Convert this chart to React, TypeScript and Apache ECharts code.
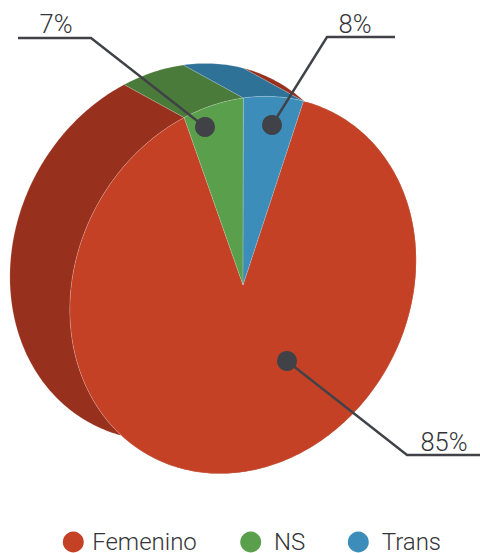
import React, { useEffect, useRef } from "react";
import * as echarts from "echarts";

const categories = ["Femenino", "NS", "Trans"];
// Angular share of each slice as drawn in the picture (percent of the turn)
const sliceShares = [88.8, 5.56, 5.64];
// Printed labels of the slices
const printedLabels = ["85%", "7%", "8%"];

const faceColors = ["#C44125", "#5A9F4C", "#3D8DBB"];
const wallColors = ["#97301D", "#4A7B3A", "#2E7298"];
const leaderColor = "#414247";
const textColor = "#333438";
const fontFamily = "Roboto";

// Tilted disc projection
const CX = 243;
const CY = 285;
const MAJOR = 194.8;
const MINOR = 166.4;
const MX = 0.476;
const MY = -0.879;
const NX = 0.879;
const NY = 0.476;
const DEPTH_X = -60;
const DEPTH_Y = -33;
const START_DEG = 16.5;

// Legend entry layout: left edge and symbol box width
const legendLefts = [62.8, 240.2, 347.8];
const legendSymbolWidths = [27.8, 36.5, 36.9];

function project(deg: number): [number, number] {
  const r = (deg * Math.PI) / 180;
  const ux = Math.sin(r);
  const uy = -Math.cos(r);
  const pm = (ux * MX + uy * MY) * MAJOR;
  const pn = (ux * NX + uy * NY) * MINOR;
  return [CX + pm * MX + pn * NX, CY + pm * MY + pn * NY];
}

function arc(from: number, sweep: number): [number, number][] {
  const n = Math.max(2, Math.ceil(sweep));
  const out: [number, number][] = [];
  for (let i = 0; i <= n; i++) out.push(project(from + (sweep * i) / n));
  return out;
}

const seam = { stroke: "rgba(255,255,255,0.28)", lineWidth: 0.6 };

function makeSeries(index: number) {
  const before = sliceShares.slice(0, index).reduce((a, b) => a + b, 0);
  return {
    type: "custom",
    name: categories[index],
    coordinateSystem: "none",
    silent: true,
    itemStyle: { color: faceColors[index] },
    data: [sliceShares[index]],
    renderItem: (_params: any, api: any) => {
      const sweep = (api.value(0) / 100) * 360;
      const from = START_DEG + (before / 100) * 360;
      const front = arc(from, sweep);
      const back = front.map(([x, y]) => [x + DEPTH_X, y + DEPTH_Y]).reverse();
      return {
        type: "group",
        children: [
          {
            type: "polygon",
            shape: { points: [...front, ...back] },
            style: { fill: wallColors[index], ...seam },
          },
          {
            type: "polygon",
            shape: { points: [[CX, CY], ...front] },
            style: { fill: faceColors[index], ...seam },
          },
        ],
      };
    },
  };
}

function leader(points: number[][], dot: number[], label: string, lx: number, ly: number) {
  return [
    {
      type: "polyline",
      z: 50,
      shape: { points: [dot, ...points] },
      style: { stroke: leaderColor, lineWidth: 2.4, fill: "none" },
    },
    {
      type: "circle",
      z: 51,
      shape: { cx: dot[0], cy: dot[1], r: 10 },
      style: { fill: leaderColor },
    },
    {
      type: "text",
      z: 52,
      x: lx,
      y: ly,
      style: {
        text: label,
        fill: textColor,
        font: `300 25.5px ${fontFamily}`,
        align: "center",
        verticalAlign: "middle",
      },
    },
  ];
}

export default function App() {
  const ref = useRef<HTMLDivElement>(null);
  useEffect(() => {
    document.body.style.margin = "0";
    const chart = echarts.init(ref.current!, undefined, { renderer: "svg" });
    chart.setOption({
      animation: false,
      backgroundColor: "#ffffff",
      legend: categories.map((name, i) => ({
        data: [{ name, icon: "circle" }],
        left: legendLefts[i],
        top: 530,
        padding: 0,
        itemWidth: legendSymbolWidths[i],
        itemHeight: 21,
        symbolKeepAspect: true,
        textStyle: {
          color: textColor,
          fontSize: 24,
          fontWeight: 300,
          fontFamily,
        },
        selectedMode: false,
      })),
      series: categories.map((_, i) => makeSeries(i)),
      graphic: [
        ...leader([[407, 455], [480, 455]], [287, 361], printedLabels[0], 444, 442),
        ...leader([[91, 38], [18, 38]], [205, 127], printedLabels[1], 56, 24),
        ...leader([[327, 37], [395, 37]], [272, 125], printedLabels[2], 355, 24),
      ],
    });
    return () => chart.dispose();
  }, []);
  return (
    <div
      ref={ref}
      style={{ position: "fixed", left: 0, top: 0, width: 480, height: 553 }}
    />
  );
}
